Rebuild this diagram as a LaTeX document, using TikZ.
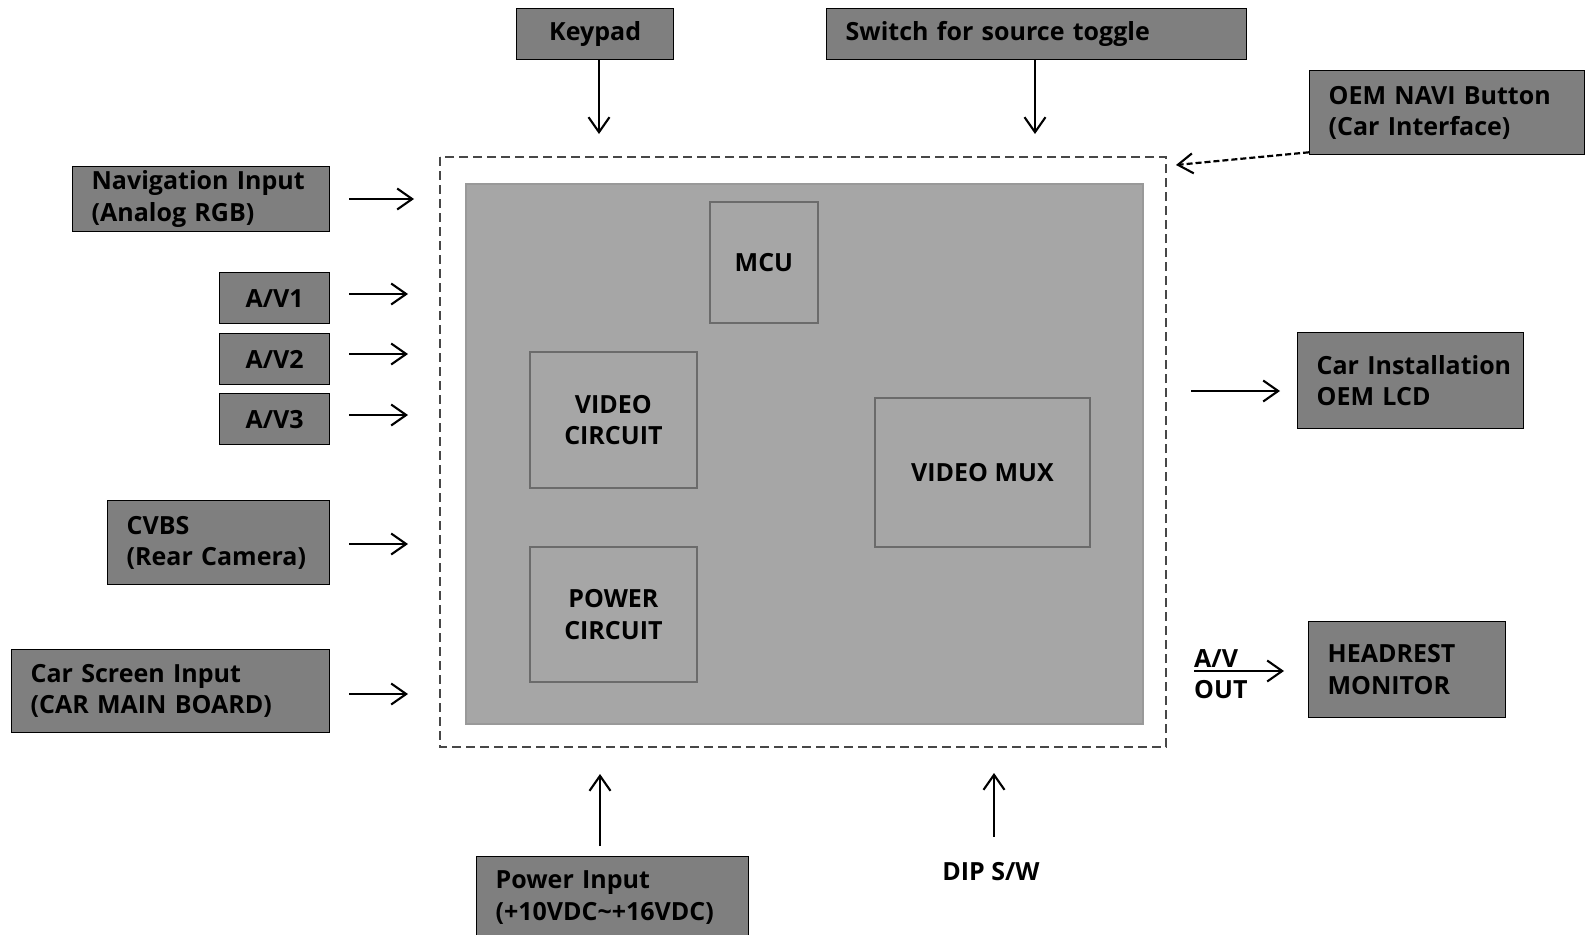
\documentclass[tikz,border=0pt]{standalone}
\usepackage{fontspec}
\setmainfont{Open Sans}
\usetikzlibrary{arrows.meta}
\hyphenpenalty=10000
\exhyphenpenalty=10000
\definecolor{boxdark}{HTML}{7F7F7F}
\definecolor{boardgray}{HTML}{A6A6A6}
\definecolor{boardedge}{HTML}{999999}
\definecolor{edgegray}{HTML}{6B6B6B}
\definecolor{dashgray}{HTML}{474747}
\begin{document}
\begin{tikzpicture}[x=1pt,y=-1pt,
  font=\bfseries\fontsize{25}{31.4}\selectfont,
  darkbox/.style={draw=black, line width=1.3pt, fill=boxdark, anchor=north west,
    inner xsep=19pt, inner ysep=0pt, align=left},
  cbox/.style={draw=black, line width=1.3pt, fill=boxdark, anchor=north west,
    inner sep=0pt, align=center},
  innerbox/.style={draw=edgegray, line width=1.8pt, fill=boardgray, anchor=north west,
    inner sep=0pt, align=center},
  arr/.style={-{Straight Barb[length=15pt,width=21pt,line width=2.1pt]}, line width=2pt},
  darr/.style={-{Straight Barb[length=15pt,width=20pt,line width=2.1pt]}, line width=2.2pt, dash pattern=on 6pt off 3pt}
]
\useasboundingbox (0,0) rectangle (1586,934);
\fill[white] (0,0) rectangle (1586,934);

% dashed module outline and board
\draw[dashgray, line width=2.3pt, dash pattern=on 9pt off 5pt] (440,157) rectangle (1166,747);
\node[draw=boardedge, line width=1.5pt, fill=boardgray, anchor=north west, inner sep=0pt,
  minimum width=677pt, minimum height=540pt] (board) at (465,183) {};

% inner blocks
\node[innerbox, minimum width=108pt, minimum height=121pt] (mcu) at (709,201) {MCU};
\node[innerbox, minimum width=167pt, minimum height=136pt] (vcirc) at (529,351) {VIDEO\\CIRCUIT};
\node[innerbox, minimum width=167pt, minimum height=135pt] (pcirc) at (529,546) {POWER\\CIRCUIT};
\node[innerbox, minimum width=215pt, minimum height=149pt] (vmux) at (874,397) {VIDEO MUX};

% outer blocks
\node[cbox, minimum width=157pt, minimum height=51pt] (keypad) at (516,8) {Keypad};
\node[darkbox, text width=382pt, minimum height=51pt] (switch) at (826,8) {Switch for source toggle};
\node[darkbox, text width=237pt, minimum height=84pt] (oem) at (1309,70) {OEM NAVI Button\\(Car Interface)};
\node[darkbox, text width=219pt, minimum height=65pt] (nav) at (72,166) {Navigation Input\\(Analog RGB)};
\node[cbox, minimum width=110pt, minimum height=51pt] (av1) at (219,272) {A/V1};
\node[cbox, minimum width=110pt, minimum height=51pt] (av2) at (219,333) {A/V2};
\node[cbox, minimum width=110pt, minimum height=51pt] (av3) at (219,393) {A/V3};
\node[darkbox, text width=184pt, minimum height=84pt] (cvbs) at (107,500) {CVBS\\(Rear Camera)};
\node[darkbox, text width=280pt, minimum height=83pt] (carscreen) at (11,649) {Car Screen Input\\(CAR MAIN BOARD)};
\node[darkbox, text width=234pt, minimum height=82pt] (power) at (476,856) {Power Input\\(+10VDC\textasciitilde+16VDC)};
\node[darkbox, text width=188pt, minimum height=96pt] (lcd) at (1297,332) {\mbox{Car Installation}\\OEM LCD};
\node[darkbox, text width=159pt, minimum height=96pt] (headrest) at (1308,621) {HEADREST\\MONITOR};
\node[inner sep=0pt] (dip) at (991,872) {DIP S/W};
\node[inner sep=0pt, anchor=west, align=left] (avout) at (1194,674) {A/V\\OUT};

% arrow end points
\coordinate (kpE) at (599,134);
\coordinate (swE) at (1035,134);
\coordinate (oemE) at (1176,165);
\coordinate (navS) at (349,199) ; \coordinate (navE) at (414,199);
\coordinate (av1S) at (349,294); \coordinate (av1E) at (408,294);
\coordinate (av2S) at (349,354); \coordinate (av2E) at (408,354);
\coordinate (av3S) at (349,415); \coordinate (av3E) at (408,415);
\coordinate (cvS) at (349,544); \coordinate (cvE) at (408,544);
\coordinate (csS) at (349,694); \coordinate (csE) at (408,694);
\coordinate (pwE) at (600,774);
\coordinate (dipE) at (994,773);
\coordinate (lcdS) at (1191,391);
\coordinate (avS) at (1194,671);

\draw[arr] (kpE |- keypad.south) -- (kpE);
\draw[arr] (swE |- switch.south) -- (swE);
\draw[darr] ([yshift=3pt]oem.south west) -- (oemE);
\draw[arr] (navS) -- (navE);
\draw[arr] (av1S) -- (av1E);
\draw[arr] (av2S) -- (av2E);
\draw[arr] (av3S) -- (av3E);
\draw[arr] (cvS) -- (cvE);
\draw[arr] (csS) -- (csE);
\draw[arr] ([yshift=10pt]pwE |- power.north) -- (pwE);
\draw[arr] ([yshift=26pt]dipE |- dip.north) -- (dipE);
\draw[arr] (lcdS) -- ([xshift=-17pt]lcdS -| lcd.west);
\draw[arr] (avS) -- ([xshift=-24pt]avS -| headrest.west);
\end{tikzpicture}
\end{document}
